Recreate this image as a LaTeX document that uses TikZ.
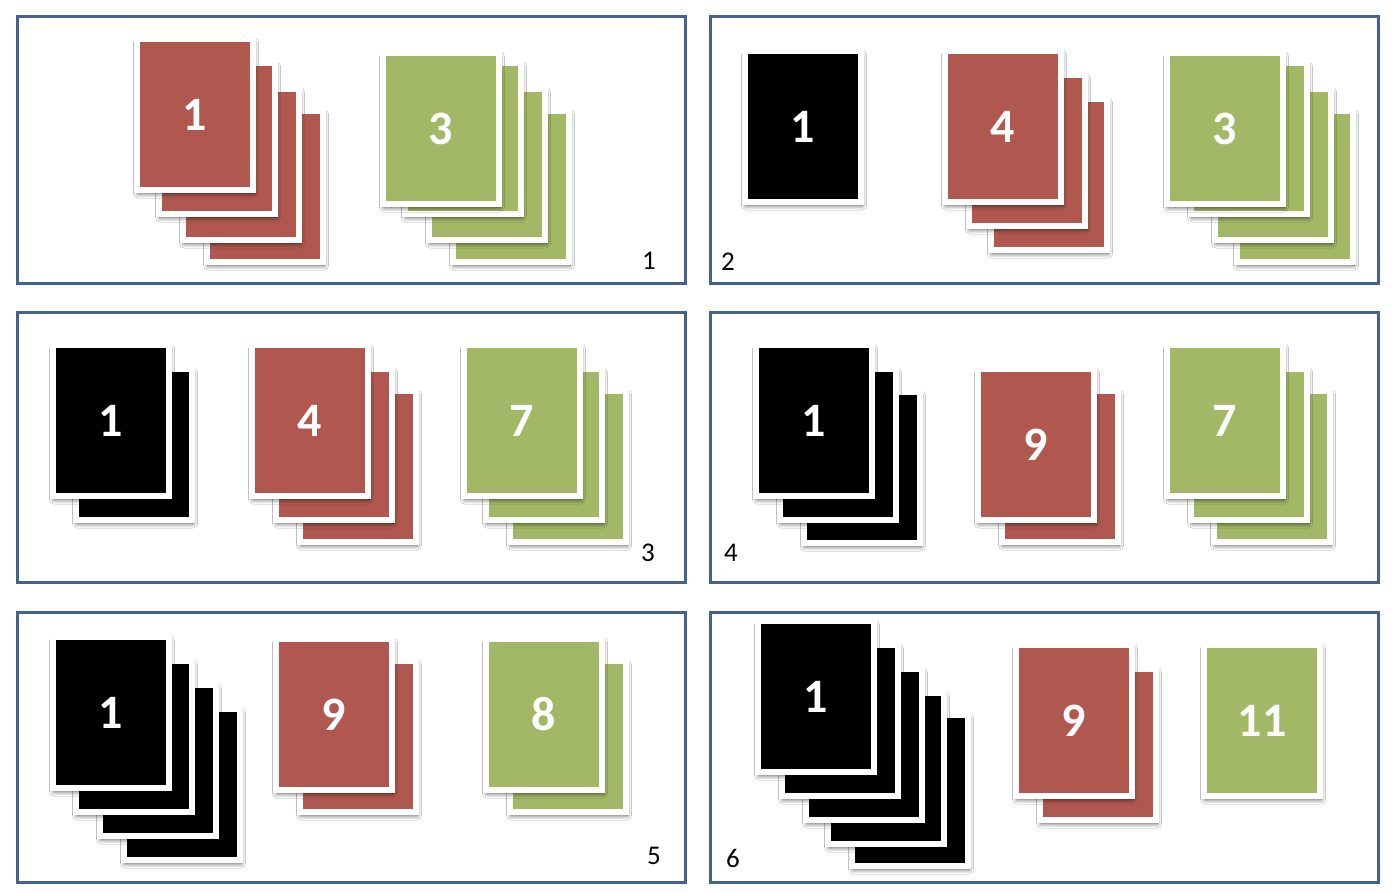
\documentclass[tikz,border=0pt]{standalone}
\usepackage{fontspec}
\setmainfont{Carlito}
\usetikzlibrary{shadows.blur}
\definecolor{cardred}{HTML}{B0584F}
\definecolor{cardgreen}{HTML}{A2B866}
\definecolor{cardblack}{HTML}{000000}
\definecolor{frameblue}{HTML}{44638C}
\newcommand{\crd}[5]{\node[cardbox, fill=#4] (#1) at ({#2+3},{-#3-3}) {#5};}
\tikzset{
  cardbox/.style={draw=white, line width=6pt, minimum width=116pt, minimum height=151pt,
    inner sep=0pt, outer sep=0pt, anchor=north west, text=white,
    font=\fontsize{48}{48}\selectfont\bfseries,
    blur shadow={shadow xshift=1pt, shadow yshift=-3.5pt, shadow blur radius=4.5pt,
      shadow blur steps=12, shadow blur extra rounding=0pt, shadow opacity=65}},
  panelbox/.style={draw=frameblue, line width=3pt, inner sep=0pt, outer sep=0pt, anchor=north west, fill=white},
  plabel/.style={font=\fontsize{27}{27}\selectfont, text=black, inner sep=0pt}
}
\begin{document}
\begin{tikzpicture}[x=1pt,y=1pt]
\useasboundingbox (0,0) rectangle (1398,-894);
\fill[white] (0,0) rectangle (1398,-894);
% panels
\node[panelbox, minimum width=667.5pt, minimum height=266.5pt] (p1) at (17.5,-16.5) {};
\node[panelbox, minimum width=668pt, minimum height=266.5pt] (p2) at (710,-16.5) {};
\node[panelbox, minimum width=667.5pt, minimum height=270pt] (p3) at (17.5,-312) {};
\node[panelbox, minimum width=668pt, minimum height=270pt] (p4) at (710,-312) {};
\node[panelbox, minimum width=667.5pt, minimum height=270pt] (p5) at (17.5,-612.5) {};
\node[panelbox, minimum width=668pt, minimum height=270pt] (p6) at (710,-612.5) {};
% panel 1
\crd{a1r4}{204}{108}{cardred}{}
\crd{a1r3}{180}{86}{cardred}{}
\crd{a1r2}{156}{60}{cardred}{}
\crd{a1r1}{134}{36}{cardred}{1}
\crd{a1g4}{450}{108}{cardgreen}{}
\crd{a1g3}{426}{86}{cardgreen}{}
\crd{a1g2}{402}{60}{cardgreen}{}
\crd{a1g1}{380}{50}{cardgreen}{3}
\node[plabel] (l1) at (649,-261) {1};
% panel 2
\crd{a2b1}{742}{48}{cardblack}{1}
\crd{a2r3}{988}{96}{cardred}{}
\crd{a2r2}{966}{72}{cardred}{}
\crd{a2r1}{942}{48}{cardred}{4}
\crd{a2g4}{1234}{108}{cardgreen}{}
\crd{a2g3}{1212}{86}{cardgreen}{}
\crd{a2g2}{1188}{60}{cardgreen}{}
\crd{a2g1}{1164}{50}{cardgreen}{3}
\node[plabel] (l2) at (728,-262) {2};
% panel 3
\crd{a3b2}{73}{366}{cardblack}{}
\crd{a3b1}{50}{342}{cardblack}{1}
\crd{a3r3}{297}{388}{cardred}{}
\crd{a3r2}{273}{366}{cardred}{}
\crd{a3r1}{249}{342}{cardred}{4}
\crd{a3g3}{507}{388}{cardgreen}{}
\crd{a3g2}{483}{366}{cardgreen}{}
\crd{a3g1}{461}{342}{cardgreen}{7}
\node[plabel] (l3) at (648,-553) {3};
% panel 4
\crd{a4b3}{801}{389}{cardblack}{}
\crd{a4b2}{777}{366}{cardblack}{}
\crd{a4b1}{753}{342}{cardblack}{1}
\crd{a4r2}{999}{388}{cardred}{}
\crd{a4r1}{975}{366}{cardred}{9}
\crd{a4g3}{1211}{388}{cardgreen}{}
\crd{a4g2}{1188}{366}{cardgreen}{}
\crd{a4g1}{1164}{342}{cardgreen}{7}
\node[plabel] (l4) at (731,-553) {4};
% panel 5
\crd{a5b4}{121}{706}{cardblack}{}
\crd{a5b3}{97}{682}{cardblack}{}
\crd{a5b2}{73}{658}{cardblack}{}
\crd{a5b1}{50}{634}{cardblack}{1}
\crd{a5r2}{297}{658}{cardred}{}
\crd{a5r1}{273}{636}{cardred}{9}
\crd{a5g2}{507}{658}{cardgreen}{}
\crd{a5g1}{483}{636}{cardgreen}{8}
\node[plabel] (l5) at (654,-856) {5};
% panel 6
\crd{a6b5}{849}{712}{cardblack}{}
\crd{a6b4}{825}{690}{cardblack}{}
\crd{a6b3}{803}{666}{cardblack}{}
\crd{a6b2}{779}{642}{cardblack}{}
\crd{a6b1}{755}{618}{cardblack}{1}
\crd{a6r2}{1037}{666}{cardred}{}
\crd{a6r1}{1013}{642}{cardred}{9}
\crd{a6g1}{1201}{642}{cardgreen}{11}
\node[plabel] (l6) at (733,-858) {6};
\end{tikzpicture}
\end{document}
